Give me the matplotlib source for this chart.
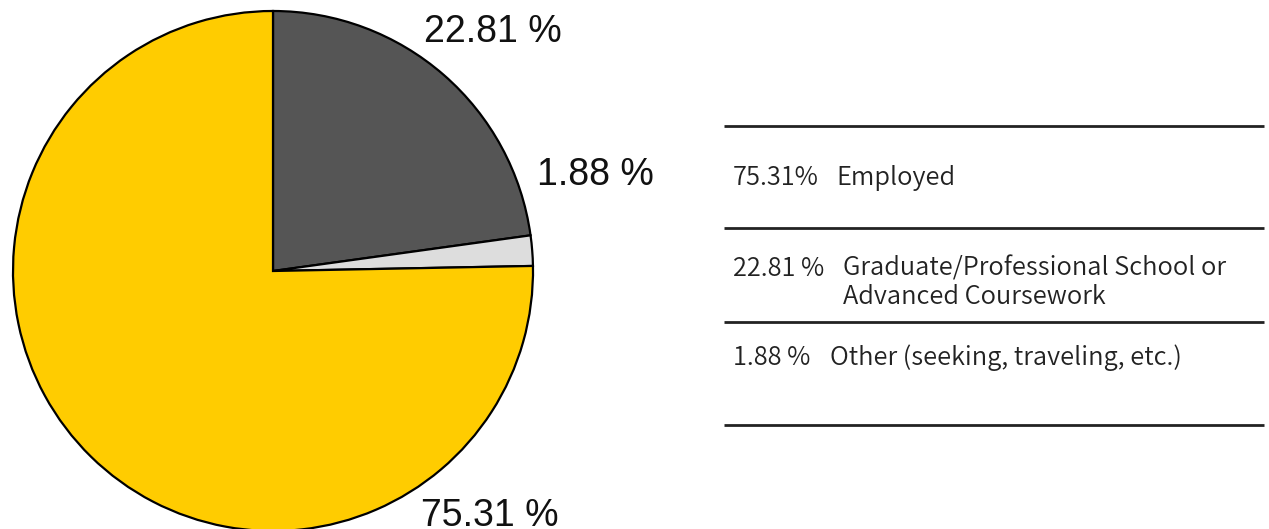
import matplotlib
matplotlib.use("Agg")
import matplotlib.pyplot as plt

# Data
categories = ["Graduate/Professional School or\nAdvanced Coursework",
              "Other (seeking, traveling, etc.)",
              "Employed"]
values = [22.81, 1.88, 75.31]
pie_labels = ["22.81 %", "1.88 %", "75.31 %"]
colors = ["#555555", "#dddddd", "#ffcc00"]

table_pct = ["75.31%", "22.81 %", "1.88 %"]
table_text = ["Employed",
              "Graduate/Professional School or\nAdvanced Coursework",
              "Other (seeking, traveling, etc.)"]

W, H = 1269, 529
fig = plt.figure(figsize=(W / 100, H / 100), dpi=100)
ax = fig.add_axes([0, 0, 1, 1])

ax.pie(values, colors=colors, startangle=90, counterclock=False,
       center=(273, H - 271), radius=260,
       wedgeprops=dict(edgecolor="black", linewidth=1.6))

# pie labels (placed manually as in reference)
lab_pos = [(493, 32), (595, 175), (490, 516)]
for t, (x, y) in zip(pie_labels, lab_pos):
    ax.text(x, H - y, t, ha="center", va="center", fontsize=27,
            family="Liberation Sans", color="#111111")

# table lines
for y in [126, 228, 322, 425]:
    ax.plot([724, 1264], [H - y, H - y], color="#222222", lw=2,
            solid_capstyle="butt")

tfont = dict(fontsize=18.3, family=["Noto Sans CJK JP", "DejaVu Sans"],
             fontweight=350, color="#222222", va="center", ha="left")
# row 1
ax.text(733, H - 178, table_pct[0], **tfont)
ax.text(836, H - 178, table_text[0], **tfont)
# row 2
ax.text(733, H - 269, table_pct[1], **tfont)
ax.text(843, H - 283, table_text[1], linespacing=1.1, **tfont)
# row 3
ax.text(733, H - 358, table_pct[2], **tfont)
ax.text(830, H - 358, table_text[2], **tfont)

ax.set_xlim(0, W)
ax.set_ylim(0, H)
ax.set_aspect("equal")
ax.axis("off")

fig.savefig("out.png", dpi=100)
